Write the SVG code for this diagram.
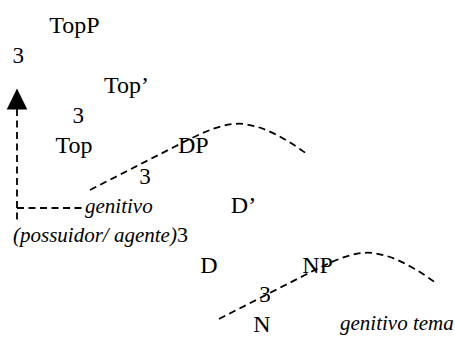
<svg xmlns="http://www.w3.org/2000/svg" width="455" height="338" viewBox="0 0 455 338">
<style>
  text { font-family: "Liberation Serif", "Times New Roman", serif; font-size: 24px; fill: #000; }
  .m { text-anchor: middle; }
  .n { font-size: 23px; }
  .it { font-style: italic; font-size: 21px; }
  .up { font-style: normal; font-size: 22px; }
  .dash { fill: none; stroke: #000; stroke-width: 1.8; stroke-dasharray: 7 4.5; }
</style>
<defs>
  <path id="curve" d="M90,190 L175,146.5 C205,131 225,122 244,124 C268,127 290,142 307,154"/>
</defs>
<rect width="455" height="338" fill="#fff"/>
<g id="connectors">
  <path class="dash" d="M17,109 L17,220"/>
  <path d="M6.7,109.5 L17,88.5 L27.3,109.5 Z" fill="#000"/>
  <path class="dash" d="M17,208 L84,208"/>
  <use href="#curve" class="dash"/>
  <use href="#curve" class="dash" transform="translate(129,129)"/>
</g>
<g id="node-topp"><text class="m" x="74.5" y="32.5">TopP</text></g>
<g id="node-3a"><text class="m n" x="18.3" y="63">3</text></g>
<g id="node-topbar"><text class="m" x="126.5" y="92.5">Top’</text></g>
<g id="node-3b"><text class="m n" x="78.3" y="122.5">3</text></g>
<g id="node-top"><text class="m" x="74" y="152.5">Top</text></g>
<g id="node-dp"><text class="m" x="193.3" y="153">DP</text></g>
<g id="node-3c"><text class="m n" x="145" y="183.5">3</text></g>
<g id="node-genitivo"><text class="it" x="85" y="213">genitivo</text></g>
<g id="node-possuidor"><text class="it" x="13" y="241.7">(possuidor/ agente)<tspan class="up">3</tspan></text></g>
<g id="node-dbar"><text class="m" x="243.5" y="213">D’</text></g>
<g id="node-d"><text class="m" x="209" y="272.5">D</text></g>
<g id="node-np"><text class="m" x="317.5" y="272.5">NP</text></g>
<g id="node-3d"><text class="m n" x="265" y="301.5">3</text></g>
<g id="node-n"><text class="m" x="262" y="331.5">N</text></g>
<g id="node-genitivo-tema"><text class="it" x="340" y="330">genitivo tema</text></g>
</svg>
